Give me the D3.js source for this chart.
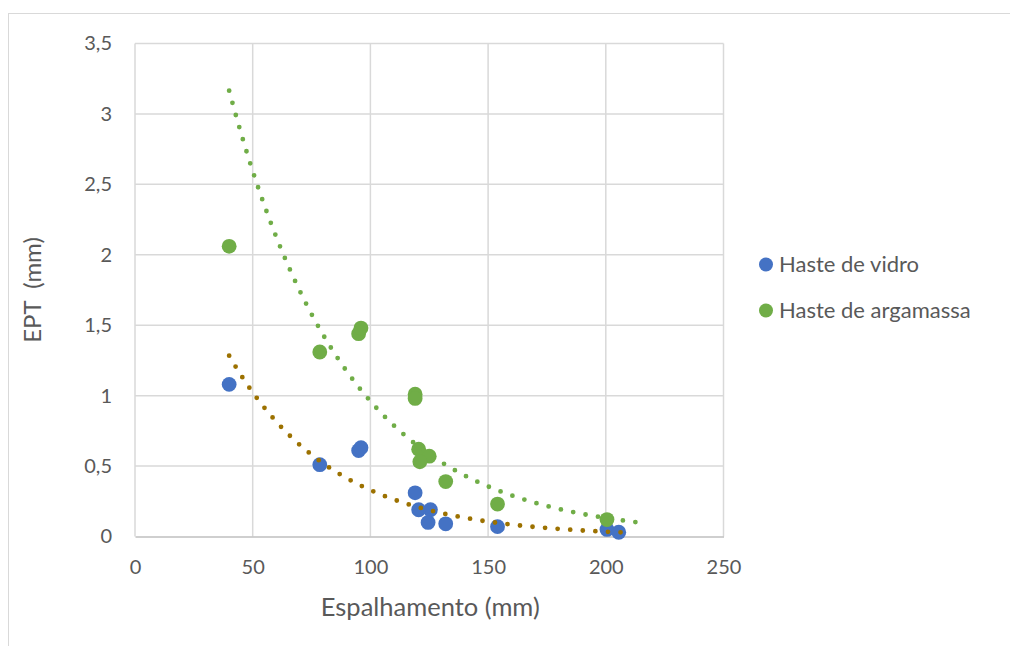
<!DOCTYPE html>
<html>
<head>
<meta charset="utf-8">
<script src="https://cdn.jsdelivr.net/npm/d3@7"></script>
<style>
  html, body { margin: 0; padding: 0; background: #ffffff; }
  svg { display: block; }
  text { font-family: "Lato", "Noto Sans", sans-serif; fill: #595959; white-space: pre; }
</style>
</head>
<body>
<svg id="chart" width="1010" height="646"></svg>
<script>
// Measured spread (mm) and EPT (mm) for each rod type
const vidroX = [40, 78.5, 95, 96, 119, 120.5, 125.5, 124.5, 132, 154, 200.5, 205.5];
const vidroY = [1.08, 0.51, 0.61, 0.63, 0.31, 0.19, 0.19, 0.10, 0.09, 0.07, 0.05, 0.03];
const argamassaX = [40, 78.5, 95, 96, 119, 119, 120.5, 125, 121, 132, 154, 200.5];
const argamassaY = [2.06, 1.31, 1.44, 1.48, 1.01, 0.98, 0.62, 0.57, 0.53, 0.39, 0.23, 0.12];

// Axis ticks
const xTicks = [0, 50, 100, 150, 200, 250];
const yTicks = [0, 0.5, 1, 1.5, 2, 2.5, 3, 3.5];

// Trendline x extents
const vidroTrendRange = [40, 211.5];
const argamassaTrendRange = [40, 216];

const seriesNames = ["Haste de vidro", "Haste de argamassa"];
const seriesColors = ["#4472C4", "#70AD47"];
const trendColors = ["#9C7100", "#70AD47"];

const svg = d3.select("#chart");

// Outer chart frame
svg.append("rect")
  .attr("x", 8.5).attr("y", 13.5)
  .attr("width", 1010).attr("height", 700)
  .attr("fill", "none").attr("stroke", "#d9d9d9").attr("stroke-width", 1);

const plot = { left: 135, right: 723.5, top: 43.5, bottom: 536.5 };

const x = d3.scaleLinear().domain([0, 250]).range([plot.left, plot.right]);
const y = d3.scaleLinear().domain([0, 3.5]).range([plot.bottom, plot.top]);

const fmt = v => String(v).replace(".", ",");

// Gridlines
const grid = svg.append("g");
grid.selectAll("line.v").data(xTicks).enter().append("line")
  .attr("x1", d => x(d)).attr("x2", d => x(d))
  .attr("y1", plot.top).attr("y2", plot.bottom)
  .attr("stroke", "#d9d9d9").attr("stroke-width", 1.5);
grid.selectAll("line.h").data(yTicks.filter(d => d > 0)).enter().append("line")
  .attr("x1", plot.left).attr("x2", plot.right)
  .attr("y1", d => y(d)).attr("y2", d => y(d))
  .attr("stroke", "#d9d9d9").attr("stroke-width", 1.5);

// Axes via d3-axis, with only their labels shown
const xAxis = svg.append("g")
  .attr("transform", `translate(0,${plot.bottom})`)
  .call(d3.axisBottom(x).tickValues(xTicks).tickFormat(fmt).tickSize(0).tickPadding(23));
xAxis.select(".domain").attr("stroke", "#bfbfbf").attr("stroke-width", 1.5);
xAxis.selectAll("text").style("font-size", "20px").attr("fill", "#595959")
  .style("font-family", "Lato, sans-serif");

const yAxis = svg.append("g")
  .attr("transform", `translate(${plot.left},0)`)
  .call(d3.axisLeft(y).tickValues(yTicks).tickFormat(fmt).tickSize(0).tickPadding(23));
yAxis.select(".domain").remove();
yAxis.selectAll("text").style("font-size", "20px").attr("fill", "#595959")
  .style("font-family", "Lato, sans-serif");

// Axis titles
svg.append("text")
  .attr("x", (plot.left + plot.right) / 2 + 1).attr("y", 616)
  .attr("text-anchor", "middle").style("font-size", "25.5px")
  .text("Espalhamento (mm)");
svg.append("text")
  .attr("transform", `translate(40.5,290) rotate(-90)`)
  .attr("text-anchor", "middle").style("font-size", "24px")
  .text("EPT  (mm)");

// Exponential least-squares trendline: ln(y) = ln(a) + b·x
function expFit(xs, ys) {
  const n = xs.length;
  const ly = ys.map(Math.log);
  const mx = d3.mean(xs), my = d3.mean(ly);
  let sxy = 0, sxx = 0;
  for (let i = 0; i < n; i++) {
    sxy += (xs[i] - mx) * (ly[i] - my);
    sxx += (xs[i] - mx) * (xs[i] - mx);
  }
  const b = sxy / sxx;
  const a = Math.exp(my - b * mx);
  return v => a * Math.exp(b * v);
}

const series = [
  { xs: vidroX, ys: vidroY, range: vidroTrendRange },
  { xs: argamassaX, ys: argamassaY, range: argamassaTrendRange }
];

const line = d3.line().x(d => x(d[0])).y(d => y(d[1])).curve(d3.curveLinear);

// Data markers
series.forEach((s, i) => {
  svg.append("g").selectAll("circle")
    .data(s.xs.map((v, k) => [v, s.ys[k]]))
    .enter().append("circle")
    .attr("cx", d => x(d[0])).attr("cy", d => y(d[1]))
    .attr("r", 7.4)
    .attr("fill", seriesColors[i]);
});

// Dotted trendlines drawn over the markers
series.forEach((s, i) => {
  const f = expFit(s.xs, s.ys);
  const steps = 200;
  const pts = d3.range(steps + 1).map(k => {
    const v = s.range[0] + (s.range[1] - s.range[0]) * k / steps;
    return [v, f(v)];
  });
  svg.append("path")
    .attr("d", line(pts))
    .attr("fill", "none")
    .attr("stroke", trendColors[i])
    .attr("stroke-width", 4.8)
    .attr("stroke-linecap", "round")
    .attr("stroke-dasharray", "0 12.6");
});

// Legend
const legend = svg.append("g");
seriesNames.forEach((name, i) => {
  const ly = 264.5 + i * 46;
  legend.append("circle").attr("cx", 766).attr("cy", ly).attr("r", 7)
    .attr("fill", seriesColors[i]);
  legend.append("text").attr("x", 779).attr("y", ly + 7.5)
    .style("font-size", "22px").text(name);
});
</script>
</body>
</html>
